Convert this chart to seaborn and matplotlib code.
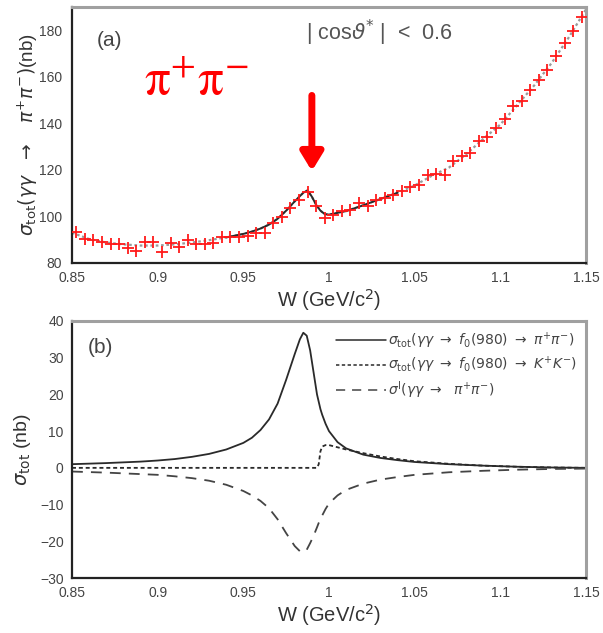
import numpy as np
import pandas as pd
import seaborn as sns
import matplotlib.pyplot as plt
from matplotlib.ticker import MultipleLocator
from matplotlib.lines import Line2D

sns.set_theme(style="white")
plt.rcParams['font.family'] = ['Liberation Sans', 'DejaVu Sans']

TEXT = '#333333'

# ---- panel (a): measured cross section, 5 MeV bins ----
w_bins = np.round(np.arange(0.8525, 1.15, 0.005), 4)
sigma_meas = [93.5, 90.4, 89.8, 89.1, 88.2, 88.2, 86.6, 85.3, 88.9, 88.9,
              84.9, 88.5, 86.8, 89.9, 88.2, 88.2, 88.8, 91.1, 91.1, 91.1,
              91.7, 93.1, 93.1, 97.1, 99.7, 103.6, 106.9, 110.6, 104.5, 99.5,
              100.7, 102.4, 102.6, 105.8, 104.3, 106.9, 108.0, 109.4, 110.8, 112.7,
              113.7, 117.6, 118.4, 117.9, 123.8, 125.9, 127.4, 132.4, 134.3, 138.2,
              141.8, 147.4, 149.5, 154.4, 158.6, 162.9, 169.1, 174.5, 179.6, 185.7]

# fit curve
w_fit = [0.85, 0.86, 0.87, 0.88, 0.89, 0.90, 0.91, 0.92, 0.93, 0.94,
         0.95, 0.955, 0.96, 0.965, 0.97, 0.975, 0.98, 0.985, 0.9875, 0.99,
         0.9925, 0.995, 0.9975, 1.0, 1.01, 1.02, 1.03, 1.04, 1.05, 1.06,
         1.07, 1.08, 1.09, 1.10, 1.11, 1.12, 1.13, 1.14, 1.15]
sigma_fit = [93.0, 90.3, 88.8, 88.0, 87.5, 87.5, 88.0, 88.8, 89.8, 91.0,
             92.5, 93.5, 94.8, 96.5, 99.0, 102.5, 106.5, 110.2, 111.2, 108.5,
             105.0, 102.5, 101.0, 100.8, 102.3, 104.8, 107.5, 110.2, 113.3, 117.5,
             121.0, 126.7, 133.3, 139.5, 148.0, 156.5, 166.0, 177.0, 189.0]
fit_range = (0.935, 1.045)

# ---- panel (b): model components ----
w_model = [0.85, 0.87, 0.89, 0.90, 0.91, 0.92, 0.93, 0.94, 0.95, 0.955,
           0.96, 0.965, 0.97, 0.975, 0.98, 0.983, 0.985, 0.987, 0.989, 0.991,
           0.993, 0.994, 0.995, 0.996, 0.998, 1.0, 1.005, 1.01, 1.02, 1.03,
           1.04, 1.05, 1.07, 1.09, 1.11, 1.13, 1.15]
sigma_f0_pipi = [1.0, 1.3, 1.7, 2.0, 2.4, 3.0, 3.8, 5.0, 6.8, 8.2,
                 10.3, 13.2, 17.5, 24.0, 31.0, 35.0, 36.8, 36.0, 32.0, 26.0,
                 20.0, 18.0, 16.0, 14.5, 12.0, 10.0, 7.0, 5.3, 3.6, 2.7,
                 2.1, 1.6, 1.0, 0.6, 0.3, 0.1, 0.0]
sigma_f0_kk = [0.0, 0.0, 0.0, 0.0, 0.0, 0.0, 0.0, 0.0, 0.0, 0.0,
               0.0, 0.0, 0.0, 0.0, 0.0, 0.0, 0.0, 0.0, 0.0, 0.0,
               0.0, 1.0, 4.5, 5.8, 6.2, 6.2, 5.6, 5.0, 4.0, 3.1,
               2.4, 1.8, 1.1, 0.6, 0.3, 0.1, 0.0]
sigma_interf = [-1.0, -1.3, -1.7, -1.9, -2.3, -2.8, -3.5, -4.6, -6.3, -7.5,
                -9.0, -11.0, -14.0, -17.8, -21.3, -22.7, -23.0, -22.3, -20.5, -18.5,
                -16.2, -15.0, -14.0, -13.0, -11.2, -9.7, -7.5, -6.0, -4.3, -3.2,
                -2.5, -1.9, -1.2, -0.8, -0.5, -0.3, -0.2]

legend_labels = [r"$\sigma_{\rm tot}(\gamma\gamma\ \rightarrow\ f_0(980)\ \rightarrow\ \pi^{+}\pi^{-})$",
                 r"$\sigma_{\rm tot}(\gamma\gamma\ \rightarrow\ f_0(980)\ \rightarrow\ K^{+}K^{-})$",
                 r"$\sigma^{\rm I}(\gamma\gamma\ \rightarrow\ \ \pi^{+}\pi^{-})$"]

W, H = 603, 633
fig = plt.figure(figsize=(W / 100, H / 100), dpi=100)
ax1 = fig.add_axes([72 / W, 1 - 263 / H, 514 / W, 256 / H])
ax2 = fig.add_axes([72 / W, 1 - 578 / H, 514 / W, 257 / H])


def style_axes(ax, ymaj, ymin, ypad):
    for side in ('left', 'bottom'):
        ax.spines[side].set_color('#222222')
        ax.spines[side].set_linewidth(1.6)
    for side in ('top', 'right'):
        ax.spines[side].set_color('#a0a0a0')
        ax.spines[side].set_linewidth(2.2)
    ax.set_xlim(0.85, 1.15)
    ax.xaxis.set_major_locator(MultipleLocator(0.05))
    ax.xaxis.set_minor_locator(MultipleLocator(0.025))
    ax.yaxis.set_major_locator(MultipleLocator(ymaj))
    ax.yaxis.set_minor_locator(MultipleLocator(ymin))
    ax.tick_params(axis='both', which='both', direction='in', colors='#333333',
                   labelcolor='#444444', labelsize=10, width=1.0)
    ax.tick_params(axis='x', which='major', length=5, pad=6)
    ax.tick_params(axis='x', which='minor', length=3)
    ax.tick_params(axis='y', which='major', length=8, pad=ypad)
    ax.tick_params(axis='y', which='minor', length=4)
    ax.set_xticks([0.85, 0.9, 0.95, 1.0, 1.05, 1.1, 1.15])
    ax.set_xticklabels(['0.85', '0.9', '0.95', '1', '1.05', '1.1', '1.15'])
    ax.set_xlabel(r"W (GeV/c$^2$)", fontsize=14.5, color=TEXT, labelpad=1)


# panel (a)
df_fit = pd.DataFrame({'W': w_fit, 'sigma': sigma_fit})
sns.lineplot(data=df_fit, x='W', y='sigma', ax=ax1, color='#9a9a9a',
             linestyle=(0, (1.2, 1.2)), linewidth=1.6)
inner = df_fit[(df_fit.W >= fit_range[0]) & (df_fit.W <= fit_range[1])]
sns.lineplot(data=inner, x='W', y='sigma', ax=ax1, color='#2a2a2a', linewidth=1.4)
df_meas = pd.DataFrame({'W': w_bins, 'sigma': sigma_meas})
sns.scatterplot(data=df_meas, x='W', y='sigma', ax=ax1, marker='+', s=70,
                color='#ff1a1a', linewidth=1.3, zorder=5)
ax1.set_ylim(80, 190)
style_axes(ax1, 20, 5, 7)
ax1.set_ylabel(r"$\sigma_{\rm tot}(\gamma\gamma\ \ \rightarrow\ \ \ \pi^{+}\pi^{-})$(nb)",
               fontsize=13.5, color=TEXT)
ax1.yaxis.set_label_coords(-0.062, 0.5)
ax1.text(0.049, 0.87, "(a)", transform=ax1.transAxes, fontsize=15, color='#444444',
         va='center', ha='left')
ax1.text(0.455, 0.90, r"| cos$\vartheta^{*}$ |  <  0.6", transform=ax1.transAxes,
         fontsize=15.5, color='#555555', va='center', ha='left')
ax1.text(0.242, 0.71, r"$\mathrm{\pi}^{+}\mathrm{\pi}^{-}$", transform=ax1.transAxes,
         fontsize=37, color='#ff0000', va='center', ha='center', math_fontfamily='stix')
ax1.annotate('', xy=(0.99, 119.5), xytext=(0.99, 152),
             arrowprops=dict(arrowstyle='-|>,head_length=0.9,head_width=0.55',
                             color='#ff0000', lw=5, shrinkA=0, shrinkB=0))

# panel (b)
df_model = pd.DataFrame({'W': w_model, 'pipi': sigma_f0_pipi,
                         'kk': sigma_f0_kk, 'interf': sigma_interf})
sns.lineplot(data=df_model, x='W', y='pipi', ax=ax2, color='#2a2a2a', linewidth=1.3)
sns.lineplot(data=df_model, x='W', y='kk', ax=ax2, color='#2a2a2a', linewidth=1.3,
             linestyle=(0, (2.2, 1.6)))
sns.lineplot(data=df_model, x='W', y='interf', ax=ax2, color='#444444', linewidth=1.3,
             linestyle=(0, (6, 4.5)))
ax2.set_ylim(-30, 40)
style_axes(ax2, 10, 2, 6)
ax2.set_ylabel(r"$\sigma_{\rm tot}$ (nb)", fontsize=14, color=TEXT)
ax2.yaxis.set_label_coords(-0.076, 0.5)
ax2.text(0.03, 0.895, "(b)", transform=ax2.transAxes, fontsize=15, color='#444444',
         va='center', ha='left')
handles = [Line2D([], [], color='#2a2a2a', lw=1.1),
           Line2D([], [], color='#2a2a2a', lw=1.1, linestyle=(0, (2.2, 1.6))),
           Line2D([], [], color='#444444', lw=1.1, linestyle=(0, (6, 4.5)))]
leg = ax2.legend(handles, legend_labels, loc='upper right', bbox_to_anchor=(1.0, 1.0),
                 frameon=False, fontsize=10, handlelength=3.6, handletextpad=0.1,
                 labelspacing=0.3, borderaxespad=0.3)
for t in leg.get_texts():
    t.set_color('#444444')

fig.savefig('out.png', dpi=100)
